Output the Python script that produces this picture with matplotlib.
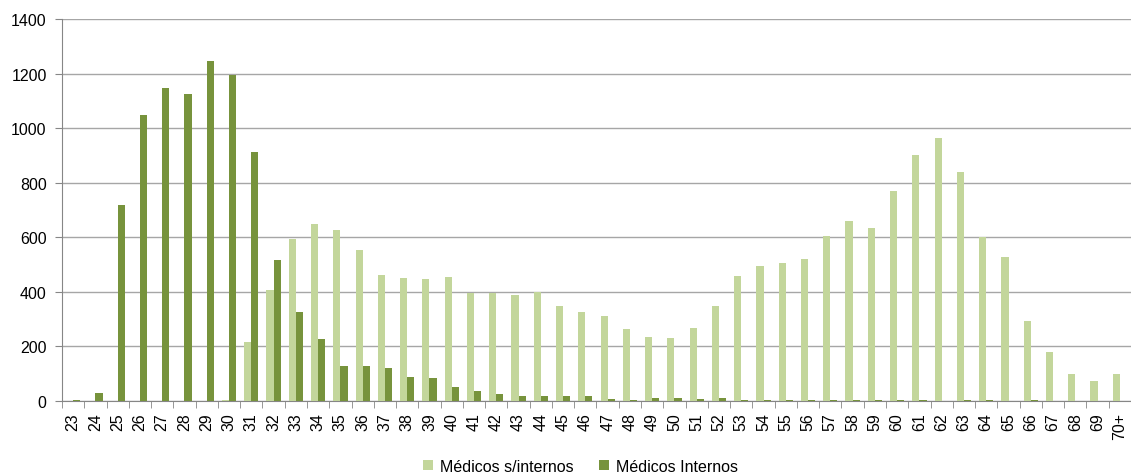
import matplotlib.pyplot as plt
import numpy as np

plt.rcParams['font.family'] = ['Liberation Sans', 'DejaVu Sans']

edades = [str(a) for a in range(23, 70)] + ['70+']
sin_internos = [0, 0, 0, 0, 0, 0, 0, 5, 218, 408, 595, 650, 625, 555, 460, 450,
                447, 455, 395, 395, 390, 400, 350, 325, 310, 265, 235, 230, 268, 350,
                458, 495, 505, 520, 605, 660, 635, 770, 900, 965, 840, 600, 527, 295,
                180, 100, 75, 100]
internos = [3, 30, 718, 1048, 1148, 1125, 1245, 1195, 913, 515, 328, 228, 130, 130,
            120, 87, 83, 50, 37, 26, 17, 17, 17, 17, 7, 3, 10, 10, 7, 10, 3, 3, 3, 5,
            3, 3, 3, 3, 3, 0, 3, 3, 0, 3, 0, 0, 0, 0]

fig = plt.figure(figsize=(11.31, 4.77), dpi=100)
ax = fig.add_axes([62 / 1131, 75 / 477, 1069 / 1131, 382 / 477])

x = np.arange(len(edades))
w = 0.32
ax.bar(x - w / 2, sin_internos, w, color='#c3d69b', label='Médicos s/internos', zorder=3)
ax.bar(x + w / 2, internos, w, color='#77933c', label='Médicos Internos', zorder=3)

ax.set_xlim(-0.5, len(edades) - 0.5)
ax.set_ylim(0, 1400)
ax.set_yticks(range(0, 1401, 200))
ax.grid(True, axis='y', color='#a6a6a6', linewidth=1, zorder=0)

ax.set_xticks(x)
ax.set_xticklabels(edades, rotation=90, fontsize=11.5)
ax.set_xticks(np.arange(-0.5, len(edades), 1), minor=True)
ax.tick_params(axis='x', which='major', length=0, pad=8)
ax.tick_params(axis='x', which='minor', length=5, color='#868686')
ax.tick_params(axis='y', length=5, color='#868686', labelsize=11.5, pad=6)

for s in ['top', 'right']:
    ax.spines[s].set_visible(False)
ax.spines['left'].set_color('#868686')
ax.spines['bottom'].set_color('#868686')

fig.legend(loc='lower center', ncol=2, frameon=False, fontsize=11.5,
           bbox_to_anchor=(0.513, -0.025), handlelength=0.65, handleheight=0.65,
           columnspacing=1.6, handletextpad=0.4)

fig.savefig('out.png', dpi=100)
